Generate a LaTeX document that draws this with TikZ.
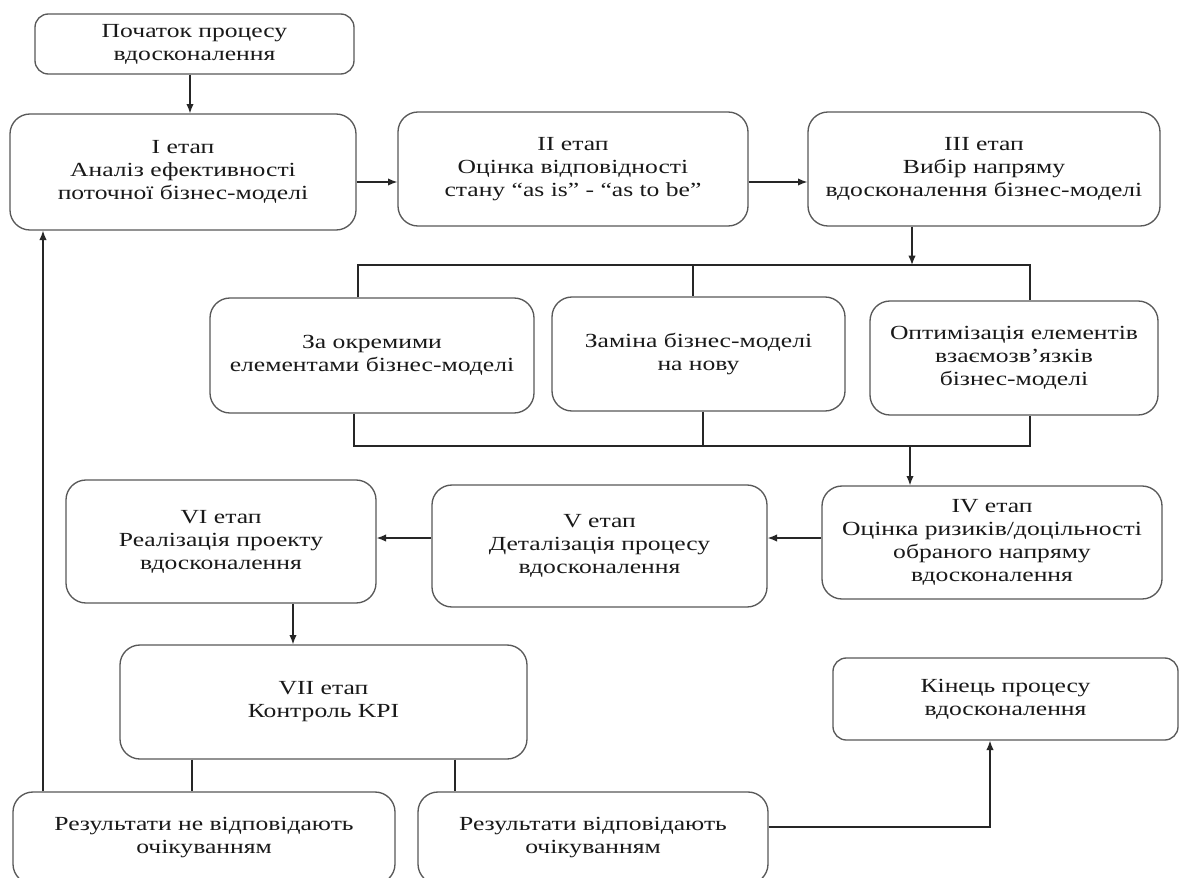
\documentclass[tikz,border=0pt]{standalone}
\usepackage{fontspec}
\setmainfont{Liberation Serif}[FakeStretch=1.28]
\usetikzlibrary{arrows.meta,calc}
\begin{document}
\begin{tikzpicture}[x=0.75pt,y=-0.75pt,
 box/.style={draw=black!65, line width=1pt, rounded corners=15pt, align=center, inner sep=0pt,
   font=\fontsize{15}{17.25}\selectfont, text=black!90},
 sbox/.style={box, rounded corners=10pt},
 wh/.style 2 args={minimum width=#1*0.75pt, minimum height=#2*0.75pt},
 con/.style={draw=black!85, line width=1pt},
 arr/.style={con, -{Latex[length=7pt,width=5.5pt]}}]
\useasboundingbox (0,0) rectangle (1179,878);
\fill[white] (0,0) rectangle (1179,878);
\clip (0,0) rectangle (1179,878);

\node[sbox, wh={319}{60}] (start) at (194.5,44) {Початок процесу\\вдосконалення};
\node[box, wh={346}{116}] (I) at (183,172) {I етап\\Аналіз ефективності\\поточної бізнес-моделі};
\node[box, wh={350}{114}] (II) at (573,169) {II етап\\Оцінка відповідності\\стану “as is” - “as to be”};
\node[box, wh={352}{114}] (III) at (984,169) {III етап\\Вибір напряму\\вдосконалення бізнес-моделі};
\node[box, wh={324}{115}] (A) at (372,355.5) {За окремими\\елементами бізнес-моделі};
\node[box, wh={293}{114}] (B) at (698.5,354) {Заміна бізнес-моделі\\на нову};
\node[box, wh={288}{114}] (C) at (1014,358) {Оптимізація елементів\\взаємозв’язків\\бізнес-моделі};
\node[box, wh={340}{113}] (IV) at (992,542.5) {IV етап\\Оцінка ризиків/доцільності\\обраного напряму\\вдосконалення};
\node[box, wh={335}{122}] (V) at (599.5,546) {V етап\\Деталізація процесу\\вдосконалення};
\node[box, wh={310}{123}] (VI) at (221,541.5) {VI етап\\Реалізація проекту\\вдосконалення};
\node[box, wh={407}{114}] (VII) at (323.5,702) {VII етап\\Контроль KPI};
\node[box, wh={382}{92}] (R1) at (204,838) {Результати не відповідають\\очікуванням};
\node[box, wh={350}{92}] (R2) at (593,838) {Результати відповідають\\очікуванням};
\node[sbox, wh={345}{82}] (End) at (1005.5,699) {Кінець процесу\\вдосконалення};

% helper coordinates
\coordinate (h1) at (0,182);
\coordinate (h2) at (0,538);
\coordinate (v1) at (190,0);
\coordinate (v2) at (293,0);
\coordinate (v3) at (192,0);
\coordinate (v4) at (455,0);
\coordinate (v5) at (43,0);
\coordinate (b0) at (912,265);
\coordinate (b1) at (358,265);
\coordinate (b2) at (693,265);
\coordinate (b3) at (1030,265);
\coordinate (d0) at (910,446);
\coordinate (d1) at (354,446);
\coordinate (d2) at (703,446);
\coordinate (d3) at (1030,446);
\coordinate (c1) at (990,827);

\draw[arr] (start.south -| v1) -- (I.north -| v1);
\draw[arr] (I.east |- h1) -- (II.west |- h1);
\draw[arr] (II.east |- h1) -- (III.west |- h1);
\draw[arr] (III.south -| b0) -- (b0);
\draw[con] (b1 |- A.north) -- (b1) -- (b3) -- (b3 |- C.north);
\draw[con] (b2) -- (b2 |- B.north);
\draw[con] (A.south -| d1) -- (d1) -- (d3) -- (C.south -| d3);
\draw[con] (B.south -| d2) -- (d2);
\draw[arr] (d0) -- (IV.north -| d0);
\draw[arr] (IV.west |- h2) -- (V.east |- h2);
\draw[arr] (V.west |- h2) -- (VI.east |- h2);
\draw[arr] (VI.south -| v2) -- (VII.north -| v2);
\draw[con] (VII.south -| v3) -- (R1.north -| v3);
\draw[con] (VII.south -| v4) -- (R2.north -| v4);
\draw[arr] (R1.north -| v5) -- (I.south -| v5);
\draw[arr] (R2.east |- c1) -- (c1) -- (End.south -| c1);
\end{tikzpicture}
\end{document}
